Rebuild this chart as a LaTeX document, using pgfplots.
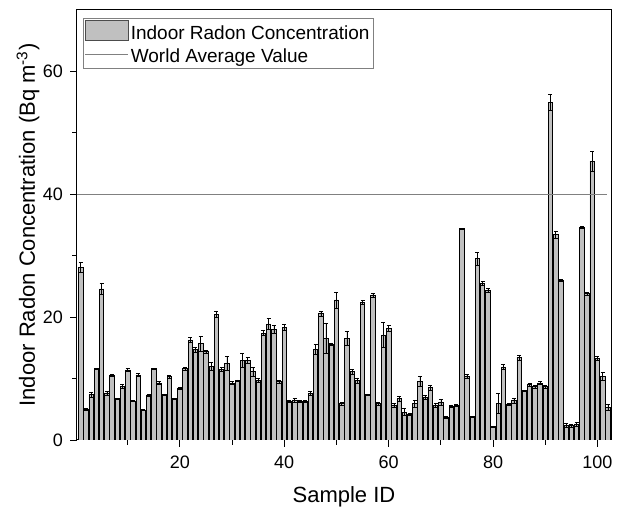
\documentclass[border=0pt]{standalone}
\usepackage{pgfplots}
\pgfplotsset{compat=1.18}
\usepackage{pgfplotstable}
\usepackage{fontspec}
\setmainfont{Liberation Sans}
\definecolor{barfill}{RGB}{192,192,192}
\pgfplotstableread{
x y e
1 28.1 0.8
2 5.0 0.2
3 7.4 0.4
4 11.6 0.1
5 24.6 0.9
6 7.6 0.3
7 10.5 0.2
8 6.7 0.1
9 8.75 0.4
10 11.4 0.2
11 6.35 0.1
12 10.6 0.2
13 4.9 0.1
14 7.3 0.1
15 11.6 0.1
16 9.3 0.3
17 7.4 0.1
18 10.3 0.2
19 6.7 0.1
20 8.4 0.2
21 11.6 0.2
22 16.3 0.4
23 14.75 0.4
24 15.7 1.2
25 14.4 0.2
26 12.0 0.6
27 20.5 0.5
28 11.5 0.3
29 12.5 1.1
30 9.3 0.3
31 9.7 0.1
32 13.0 1.1
33 13.0 0.5
34 11.1 0.8
35 9.7 0.3
36 17.4 0.4
37 18.9 0.9
38 18.0 0.6
39 9.5 0.3
40 18.35 0.5
41 6.3 0.1
42 6.45 0.3
43 6.3 0.1
44 6.3 0.1
45 7.6 0.3
46 14.75 0.8
47 20.6 0.4
48 16.55 2.5
49 15.6 0.2
50 22.8 1.3
51 5.9 0.2
52 16.55 1.1
53 11.1 0.4
54 9.7 0.4
55 22.4 0.3
56 7.4 0.1
57 23.6 0.3
58 5.9 0.2
59 17.1 2.0
60 18.2 0.5
61 5.65 0.3
62 6.7 0.4
63 4.55 0.6
64 4.2 0.2
65 5.9 0.5
66 9.5 0.8
67 7.0 0.3
68 8.5 0.4
69 5.65 0.4
70 6.2 0.5
71 3.7 0.1
72 5.5 0.2
73 5.65 0.2
74 34.4 0.1
75 10.4 0.3
76 3.8 0.1
77 29.5 1.0
78 25.55 0.3
79 24.4 0.3
80 2.2 0.1
81 6.0 1.6
82 11.9 0.4
83 5.8 0.2
84 6.45 0.4
85 13.45 0.4
86 8.0 0.1
87 9.0 0.3
88 8.7 0.2
89 9.3 0.3
90 8.7 0.2
91 55.0 1.3
92 33.45 0.6
93 26.0 0.1
94 2.35 0.3
95 2.35 0.2
96 2.6 0.3
97 34.65 0.1
98 23.8 0.3
99 45.4 1.6
100 13.3 0.3
101 10.4 0.6
102 5.3 0.5
}\radon
\begin{document}
\begin{tikzpicture}
\begin{axis}[
  scale only axis,
  width=534pt, height=430pt,
  xmin=0.3, xmax=102.6,
  ymin=0, ymax=70,
  xtick={20,40,60,80,100},
  minor xtick={10,30,50,70,90},
  ytick={0,20,40,60},
  minor ytick={10,30,50},
  tick align=outside,
  tick pos=left,
  major tick length=7pt,
  minor tick length=5pt,
  every tick/.style={black, line width=0.8pt},
  axis line style={black, line width=1pt},
  /pgf/number format/assume math mode=true,
  tick label style={font=\fontsize{18}{21}\selectfont},
  xticklabel style={anchor=base, yshift=-21.5pt},
  yticklabel style={anchor=east, inner sep=2pt, xshift=-5pt},
  label style={font=\fontsize{22}{26}\selectfont, inner sep=0pt},
  xlabel={Sample ID},
  ylabel={Indoor Radon Concentration (Bq m\textsuperscript{-3})},
  xlabel style={at={(axis description cs:0.5,0)}, anchor=center, yshift=-56.5pt},
  ylabel style={at={(axis description cs:0,0.5)}, anchor=center, yshift=49pt},
  legend style={at={(rel axis cs:0,1)}, anchor=north west, xshift=5.7pt, yshift=-7.7pt,
    draw=gray, line width=0.6pt,
    font=\fontsize{19}{22}\selectfont, row sep=4pt, inner sep=2pt},
  legend cell align=left,
]
\coordinate (sw) at (rel axis cs:0,0);
\coordinate (ne) at (rel axis cs:1,1);
\addplot[ybar, bar width=0.85, fill=barfill, draw=black, line width=0.7pt,
  error bars/.cd, y dir=both, y explicit,
  error bar style={black, line width=0.5pt},
  error mark options={rotate=90, mark size=2pt, black, line width=0.5pt},
  /pgfplots/legend image code/.code={\draw[fill=barfill, draw=black!70, line width=0.8pt] (0pt,-7.2pt) rectangle (43pt,12.8pt);}]
  table[x=x, y=y, y error=e] {\radon};
\addlegendentry{Indoor Radon Concentration}
\addplot[gray, line width=0.7pt,
  legend image code/.code={\draw[gray, line width=0.7pt] (0pt,2.5pt) -- (43pt,2.5pt);}]
  coordinates {(0.3,40) (101.8,40)};
\addlegendentry{World Average Value}
\end{axis}
\path ([xshift=-77pt,yshift=-65.5pt]sw) rectangle ([xshift=7pt,yshift=10pt]ne);
\end{tikzpicture}
\end{document}
